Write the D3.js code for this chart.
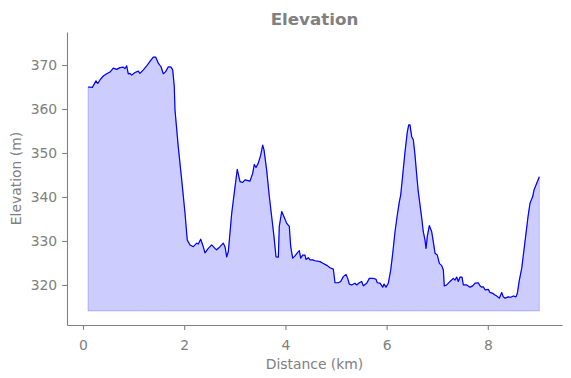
<!DOCTYPE html>
<html>
<head>
<meta charset="utf-8">
<script src="https://cdn.jsdelivr.net/npm/d3@7"></script>
<style>
  html, body { margin: 0; padding: 0; background: #fff; }
  svg { display: block; font-family: "DejaVu Sans", sans-serif; }
</style>
</head>
<body>
<script>
// Distance along the route (km) and elevation (m)
const distance = [
  0.099, 0.184, 0.257, 0.291, 0.336, 0.401, 0.468, 0.534, 0.599, 0.666,
  0.731, 0.796, 0.830, 0.864, 0.895, 0.929, 0.962, 1.028, 1.093, 1.126,
  1.192, 1.259, 1.324, 1.389, 1.437, 1.488, 1.542, 1.587, 1.634, 1.686,
  1.739, 1.773, 1.804, 1.818, 1.883, 1.951, 2.016, 2.061, 2.115, 2.180,
  2.247, 2.279, 2.326, 2.366, 2.411, 2.476, 2.543, 2.609, 2.642, 2.708,
  2.773, 2.806, 2.840, 2.872, 2.939, 3.004, 3.049, 3.103, 3.156, 3.202,
  3.300, 3.354, 3.385, 3.419, 3.464, 3.512, 3.551, 3.577, 3.630, 3.682,
  3.729, 3.775, 3.814, 3.860, 3.879, 3.927, 3.972, 4.026, 4.077, 4.105,
  4.144, 4.190, 4.235, 4.275, 4.302, 4.342, 4.387, 4.407, 4.453, 4.486,
  4.540, 4.585, 4.684, 4.749, 4.828, 4.881, 4.947, 4.980, 5.045, 5.093,
  5.144, 5.198, 5.231, 5.263, 5.310, 5.375, 5.409, 5.460, 5.508, 5.540,
  5.607, 5.658, 5.737, 5.791, 5.816, 5.870, 5.923, 5.949, 5.988, 6.034,
  6.081, 6.121, 6.166, 6.211, 6.251, 6.279, 6.318, 6.364, 6.409, 6.437,
  6.462, 6.496, 6.528, 6.561, 6.595, 6.626, 6.660, 6.694, 6.725, 6.759,
  6.779, 6.804, 6.844, 6.891, 6.923, 6.957, 7.002, 7.042, 7.089, 7.121,
  7.140, 7.188, 7.253, 7.318, 7.352, 7.385, 7.417, 7.451, 7.490, 7.516,
  7.583, 7.648, 7.702, 7.747, 7.812, 7.846, 7.879, 7.911, 7.945, 8.010,
  8.043, 8.097, 8.142, 8.176, 8.227, 8.275, 8.306, 8.340, 8.405, 8.453,
  8.504, 8.557, 8.583, 8.623, 8.670, 8.715, 8.755, 8.794, 8.834, 8.887,
  8.913, 8.966, 9.018
];
const elevation = [
  365.0, 364.9, 366.4, 365.8, 366.6, 367.5, 368.0, 368.4, 369.3, 369.0,
  369.4, 369.5, 369.2, 369.8, 368.0, 368.1, 367.7, 368.3, 368.6, 368.1,
  368.9, 369.8, 370.8, 371.8, 371.8, 370.4, 369.6, 368.0, 368.5, 369.6,
  369.5, 368.9, 365.1, 359.8, 351.4, 343.9, 336.3, 330.2, 329.1, 328.7,
  329.5, 329.3, 330.4, 329.1, 327.3, 328.3, 329.1, 328.3, 328.0, 328.7,
  329.5, 328.7, 326.4, 327.6, 336.3, 342.3, 346.3, 343.5, 343.3, 343.9,
  343.6, 345.4, 347.4, 346.7, 347.7, 349.5, 351.8, 350.7, 346.1, 340.1,
  335.5, 331.0, 326.4, 326.3, 333.3, 336.7, 335.5, 334.0, 333.3, 328.7,
  326.1, 326.6, 327.3, 327.8, 326.1, 326.8, 326.8, 325.8, 326.2, 325.7,
  325.7, 325.5, 325.3, 324.9, 324.4, 323.9, 323.6, 320.5, 320.5, 320.8,
  321.9, 322.4, 321.5, 320.2, 320.0, 320.4, 320.0, 320.5, 320.8, 319.8,
  320.4, 321.5, 321.5, 321.3, 320.5, 320.4, 319.5, 320.2, 319.5, 320.4,
  323.4, 327.2, 332.1, 335.9, 338.9, 340.5, 345.0, 350.3, 354.8, 356.4,
  356.4, 353.7, 353.0, 349.5, 345.0, 341.2, 338.2, 335.2, 332.1, 330.2,
  328.3, 331.0, 333.5, 332.1, 329.8, 327.2, 326.8, 324.9, 324.4, 323.4,
  319.8, 320.0, 320.8, 321.5, 321.1, 321.8, 320.8, 321.8, 321.8, 320.0,
  320.0, 319.5, 319.8, 320.4, 320.5, 319.8, 319.5, 319.6, 318.9, 319.0,
  318.3, 318.1, 317.7, 317.5, 317.0, 318.3, 317.3, 317.0, 317.3, 317.2,
  317.5, 317.3, 318.1, 321.1, 323.8, 328.0, 331.8, 335.5, 338.6, 340.1,
  341.6, 343.1, 344.6
];
const fillBase = 314.1;
const xTicks = [0, 2, 4, 6, 8];
const yTicks = [320, 330, 340, 350, 360, 370];

const w = 571;
const h = 378;
const grey = "#808080";
const points = distance.map((d, i) => ({ d, e: elevation[i] }));

const svg = d3
    .select("body")
    .append("svg")
    .attr("width", w)
    .attr("height", h);

const x = d3.scaleLinear().domain([-0.316, 9.466]).range([67, 562]);
const y = d3.scaleLinear().domain([310.9, 377.5]).range([325, 32]);

// filled profile (edge drawn in the same translucent blue as the face)
svg
    .append("path")
    .datum(points)
    .attr("d", d3.area().x(p => x(p.d)).y0(y(fillBase)).y1(p => y(p.e)))
    .attr("fill", "blue")
    .attr("fill-opacity", 0.2)
    .attr("stroke", "blue")
    .attr("stroke-opacity", 0.2)
    .attr("stroke-width", 1);

svg
    .append("path")
    .datum(points)
    .attr("d", d3.line().x(p => x(p.d)).y(p => y(p.e)))
    .attr("fill", "none")
    .attr("stroke", "blue")
    .attr("stroke-width", 1.2)
    .attr("stroke-linejoin", "round");

// axes
const xAxis = svg
    .append("g")
    .attr("transform", "translate(0,325)")
    .call(d3.axisBottom(x).tickValues(xTicks).tickFormat(d3.format("d")).tickSize(4.9).tickSizeOuter(0));

const yAxis = svg
    .append("g")
    .attr("transform", "translate(67,0)")
    .call(d3.axisLeft(y).tickValues(yTicks).tickFormat(d3.format("d")).tickSize(4.9).tickPadding(4.9).tickSizeOuter(0));

[xAxis, yAxis].forEach(g => {
    g.select(".domain").attr("stroke", grey).attr("stroke-width", 1.1);
    g.selectAll(".tick line").attr("stroke", grey).attr("stroke-width", 1.1);
    g.selectAll(".tick text")
        .attr("fill", grey)
        .attr("font-family", "DejaVu Sans")
        .attr("font-size", "13.9px");
});
xAxis.selectAll(".tick text").attr("y", 24.5).attr("dy", null);

// title and axis labels
svg
    .append("text")
    .attr("x", 314.5)
    .attr("y", 25)
    .attr("text-anchor", "middle")
    .attr("font-size", "16.7px")
    .attr("font-weight", "bold")
    .attr("fill", grey)
    .text("Elevation");

svg
    .append("text")
    .attr("x", 314.5)
    .attr("y", 369)
    .attr("text-anchor", "middle")
    .attr("font-size", "13.9px")
    .attr("fill", grey)
    .text("Distance (km)");

svg
    .append("text")
    .attr("transform", "translate(21,178.5) rotate(-90)")
    .attr("text-anchor", "middle")
    .attr("font-size", "13.9px")
    .attr("fill", grey)
    .text("Elevation (m)");
</script>
</body>
</html>
